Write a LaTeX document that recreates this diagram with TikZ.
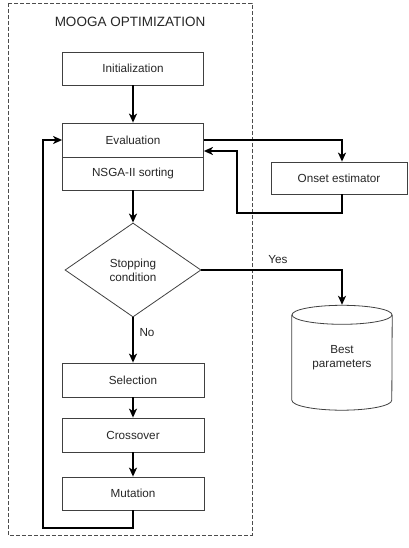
\documentclass[tikz,border=0pt]{standalone}
\usepackage{fontspec}
\setmainfont{Liberation Sans}
\usetikzlibrary{arrows.meta,shapes.geometric,calc}
\begin{document}
\begin{tikzpicture}[x=1pt,y=-1pt,
  box/.style={draw=black!75,line width=0.8pt,rectangle,minimum width=141pt,minimum height=33pt,inner sep=0pt,text=black!85,font=\fontsize{11.7}{14}\selectfont,align=center},
  dec/.style={draw=black!75,line width=0.8pt,diamond,minimum width=136pt,minimum height=94pt,inner sep=0pt,text=black!85,font=\fontsize{11.7}{14}\selectfont,align=center},
  conn/.style={line width=1.8pt,-{Stealth[length=9pt,width=8pt,inset=2.5pt]}},
  lbl/.style={text=black!85,font=\fontsize{11.7}{14}\selectfont,inner sep=0pt}]
\useasboundingbox (0,0) rectangle (408,548);
% frame
\draw[black!70,line width=0.9pt,dash pattern=on 4pt off 2pt] (8,3) rectangle (252,535);
\node[lbl,font=\fontsize{13.5}{16}\selectfont] (title) at (130,22) {MOOGA OPTIMIZATION};
% boxes
\node[box] (init) at (133,68.5) {Initialization};
\node[box,minimum height=34pt] (eval) at (133,140) {Evaluation};
\node[box] (nsga) at (133,173.5) {NSGA-II sorting};
\node[dec] (stop) at (133,270) {Stopping\\condition};
\node[box,minimum width=136pt,minimum height=32pt] (onset) at (339,178) {Onset estimator};
\node[box,minimum width=142pt,minimum height=34pt] (sel) at (133,380) {Selection};
\node[box,minimum width=142pt,minimum height=34pt] (cross) at (133,435) {Crossover};
\node[box,minimum width=142pt,minimum height=33pt] (mut) at (133,493.5) {Mutation};
% cylinder
\node[lbl,align=center,minimum width=100pt,minimum height=105pt] (best) at (342,357.5) {Best\\parameters};
\draw[black!75,line width=0.8pt] (best.north) ++(0,10) ellipse [x radius=50pt,y radius=9.5pt];
\draw[black!75,line width=0.8pt] ($(best.north west)+(0,10)$) -- ($(best.south west)+(0,-10)$)
  arc[start angle=180,end angle=360,x radius=50pt,y radius=10pt] -- ($(best.north east)+(0,10)$);
% connectors
\coordinate (r1) at (237,213);
\coordinate (loopc) at (43,528);
\draw[conn] (init) -- (eval);
\draw[conn] (eval.east) -| ([xshift=3pt]onset.north);
\draw[conn] ([xshift=3pt]onset.south) |- (r1) |- ([yshift=-11pt]eval.east);
\draw[conn] (nsga) -- (stop);
\draw[conn] (stop.east) -| (best.north);
\node[lbl] (yes) at (278,260) {Yes};
\draw[conn] (stop) -- (sel);
\node[lbl] (no) at (147,333) {No};
\draw[conn] (sel) -- (cross);
\draw[conn] (cross) -- (mut);
\draw[conn] (mut.south) |- (loopc) |- (eval.west);
\end{tikzpicture}
\end{document}
